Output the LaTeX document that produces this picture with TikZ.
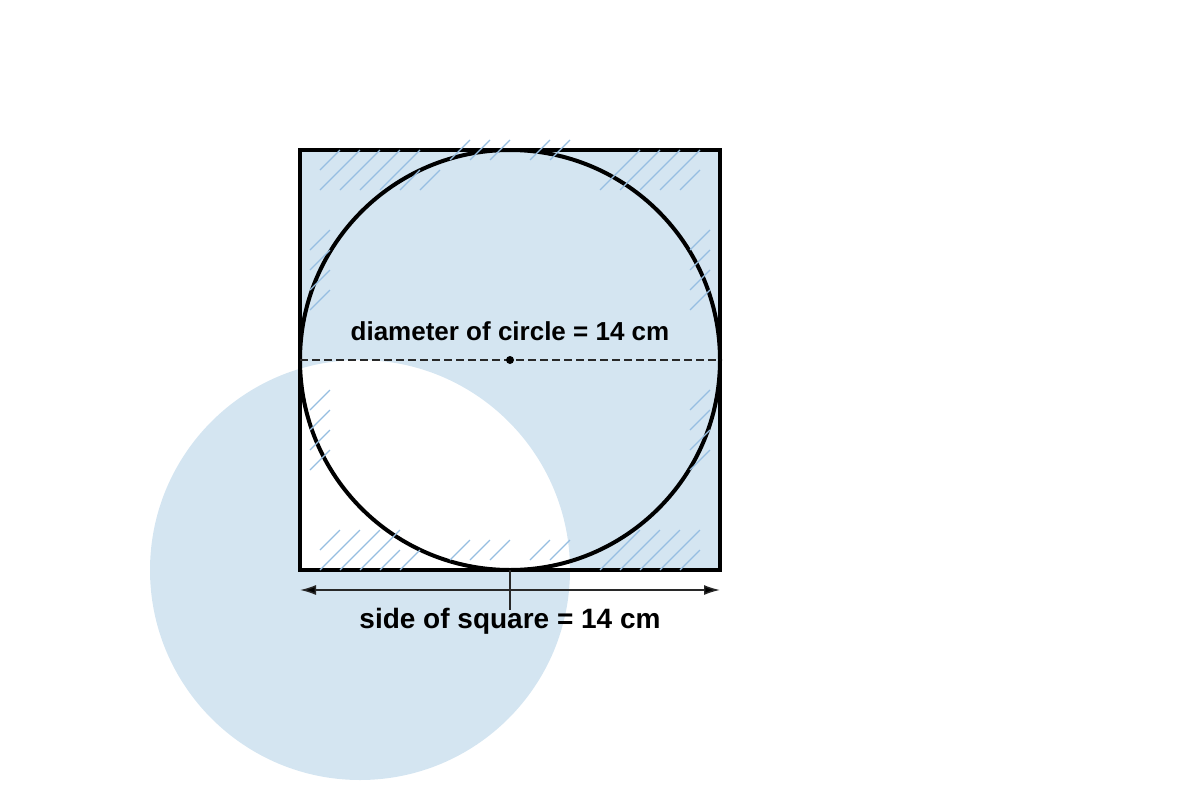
\documentclass[tikz,border=0pt]{standalone}
\usepackage{fontspec}
\setmainfont{Liberation Sans}
\usetikzlibrary{arrows.meta}
\definecolor{paleblue}{RGB}{212,229,241}
\definecolor{hatchblue}{RGB}{150,190,225}
\definecolor{darkline}{RGB}{40,40,40}
\begin{document}
\begin{tikzpicture}[
		x = 0.75pt, y = -0.75pt,
		every node/.style = {font = \bfseries\fontsize{19.5}{23}\selectfont},
		hatch/.style = {hatchblue, line width = 1pt},
		outline/.style = {line width = 3pt},
		thin line/.style = {darkline, line width = 1.1pt},
		dimline/.style = {thin line, <->, >={Latex[length = 12pt, width = 7.5pt, fill = black]}}
	]

	\useasboundingbox (0,0) rectangle (1200,800);

	\coordinate (O) at (510,360);
	\coordinate (L) at (300,360);
	\coordinate (R) at (720,360);
	\coordinate (A) at (300,590);
	\coordinate (B) at (720,590);
	\coordinate (T) at (510,570);
	\coordinate (Tb) at (510,610);

	\fill[paleblue, even odd rule] (300,150) rectangle (720,570) (360,570) circle[radius = 157.5pt];

	\draw[outline] (O) circle[radius = 157.5pt];
	\draw[outline] (300,150) rectangle (720,570);

	\draw[thin line, dash pattern = on 6pt off 3pt] (L) -- (R);
	\fill (O) circle[radius = 3pt];

	\foreach \y in {150,170} \foreach \x in {320,340,...,400} \draw[hatch] (\x,\y+20) -- ++(20,-20);
	\draw[hatch] (420,190) -- ++(20,-20);
	\foreach \x in {450,470,490,530,550} {
		\draw[hatch] (\x,160) -- ++(20,-20);
		\draw[hatch] (\x,560) -- ++(20,-20);
	}
	\foreach \x in {620,640,...,680} {
		\draw[hatch] (\x,170) -- ++(20,-20);
		\draw[hatch] (\x,550) -- ++(20,-20);
	}
	\foreach \x in {600,620,...,680} {
		\draw[hatch] (\x,190) -- ++(20,-20);
		\draw[hatch] (\x,570) -- ++(20,-20);
	}
	\foreach \x in {320,340,...,380} \draw[hatch] (\x,550) -- ++(20,-20);
	\foreach \x in {320,340,...,400} \draw[hatch] (\x,570) -- ++(20,-20);
	\foreach \y in {230,250,...,290,390,410,...,450} {
		\draw[hatch] (310,\y+20) -- ++(20,-20);
		\draw[hatch] (690,\y+20) -- ++(20,-20);
	}

	\draw[dimline] (A) -- (B);
	\draw[thin line] (T) -- (Tb);

	\node (diam) at (510,331) {diameter of circle = 14 cm};
	\node[font = \bfseries\fontsize{21}{25}\selectfont] (side) at (510,621) {side of square = 14 cm};

\end{tikzpicture}
\end{document}
